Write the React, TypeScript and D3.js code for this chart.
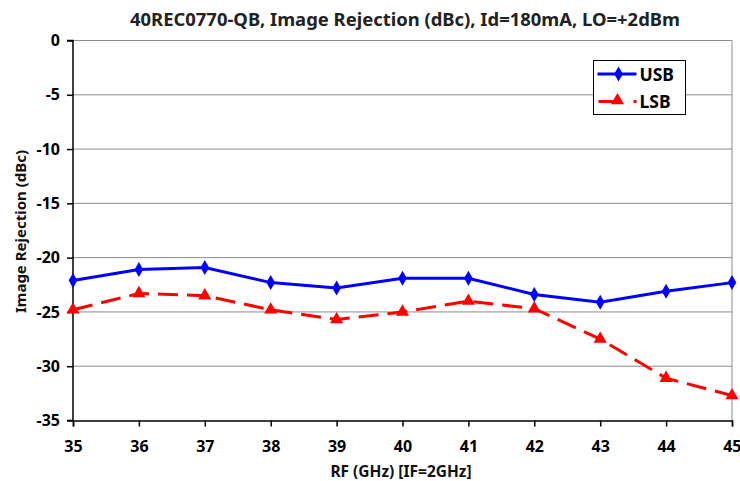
import { useEffect, useRef } from "react";
import * as d3 from "d3";

// RF frequency (GHz) and image rejection (dBc)
const rfGHz = [35, 36, 37, 38, 39, 40, 41, 42, 43, 44, 45];
const usb = [-22.1, -21.1, -20.9, -22.3, -22.8, -21.9, -21.9, -23.4, -24.1, -23.1, -22.3];
const lsb = [-24.8, -23.3, -23.5, -24.8, -25.7, -25.0, -24.0, -24.7, -27.5, -31.1, -32.7];
const yTicks = [0, -5, -10, -15, -20, -25, -30, -35];
const xTicks = [35, 36, 37, 38, 39, 40, 41, 42, 43, 44, 45];

const title = "40REC0770-QB, Image Rejection (dBc), Id=180mA, LO=+2dBm";
const xTitle = "RF (GHz) [IF=2GHz]";
const yTitle = "Image Rejection (dBc)";
const font = "'Noto Sans', 'DejaVu Sans', sans-serif";

export default function App() {
  const svgRef = useRef<SVGSVGElement>(null);

  useEffect(() => {
    if (!svgRef.current) return;
    const W = 740;
    const H = 481;
    const margin = { top: 40.5, right: 8, bottom: 60.5, left: 73 };
    const innerW = W - margin.left - margin.right;
    const innerH = H - margin.top - margin.bottom;

    const root = d3.select(svgRef.current);
    root.selectAll("*").remove();

    const x = d3.scaleLinear().domain([35, 45]).range([0, innerW]);
    const y = d3.scaleLinear().domain([-35, 0]).range([innerH, 0]);

    const svg = root.append("g").attr("transform", `translate(${margin.left},${margin.top})`);

    // Title
    root.append("text")
      .attr("x", 405).attr("y", 26)
      .attr("text-anchor", "middle")
      .style("font-family", font).style("font-weight", "bold").style("font-size", "17.5px")
      .attr("textLength", 550).attr("lengthAdjust", "spacingAndGlyphs")
      .attr("fill", "#222")
      .text(title);

    // Grid lines
    svg.append("g").selectAll("line")
      .data(yTicks.filter(d => d !== -35))
      .join("line")
      .attr("x1", 0).attr("x2", innerW)
      .attr("y1", d => y(d)).attr("y2", d => y(d))
      .attr("stroke", "#8c8c8c").attr("stroke-width", 1);

    // Right border
    svg.append("line")
      .attr("x1", innerW).attr("x2", innerW).attr("y1", 0).attr("y2", innerH)
      .attr("stroke", "#8c8c8c").attr("stroke-width", 1);

    // Axes
    const xAxis = d3.axisBottom(x).tickValues(xTicks).tickSize(6).tickPadding(14).tickFormat(d => String(d));
    const yAxis = d3.axisLeft(y).tickValues(yTicks).tickSize(6).tickPadding(7).tickFormat(d => String(d));

    const gx = svg.append("g").attr("transform", `translate(0,${innerH})`).call(xAxis);
    const gy = svg.append("g").call(yAxis);
    [gx, gy].forEach(g => {
      g.select(".domain").attr("stroke", "#000").attr("stroke-width", 1.5);
      g.selectAll(".tick line").attr("stroke", "#000").attr("stroke-width", 1.5);
      g.selectAll("text")
        .style("font-family", font).style("font-weight", "bold").style("font-size", "16px")
        .attr("fill", "#000");
    });
    gy.selectAll(".domain").attr("d", `M-6,${innerH}H0V0H-6`);
    // keep the last x label inside the page edge
    gx.selectAll<SVGTextElement, number>(".tick text")
      .filter(d => d === 45)
      .attr("text-anchor", "end")
      .attr("dx", 9);

    // Axis titles
    root.append("text")
      .attr("x", 401).attr("y", 477)
      .attr("text-anchor", "middle")
      .style("font-family", font).style("font-weight", "bold").style("font-size", "15.5px")
      .attr("fill", "#111")
      .text(xTitle);
    root.append("text")
      .attr("transform", "translate(26,231.5) rotate(-90)")
      .attr("text-anchor", "middle")
      .style("font-family", font).style("font-weight", "bold").style("font-size", "15px")
      .attr("fill", "#111")
      .text(yTitle);

    const line = d3.line<number>().x((_, i) => x(rfGHz[i])).y(d => y(d));

    // LSB
    svg.append("path")
      .datum(lsb)
      .attr("d", line)
      .attr("fill", "none")
      .attr("stroke", "#ff0000").attr("stroke-width", 3)
      .attr("stroke-dasharray", "20,9");
    const tri = d3.symbol().type(d3.symbolTriangle).size(75);
    svg.append("g").selectAll("path")
      .data(lsb)
      .join("path")
      .attr("d", tri)
      .attr("transform", (d, i) => `translate(${x(rfGHz[i])},${y(d)})`)
      .attr("fill", "#ff0000");

    // USB
    svg.append("path")
      .datum(usb)
      .attr("d", line)
      .attr("fill", "none")
      .attr("stroke", "#0000ff").attr("stroke-width", 3);
    const dia = d3.symbol().type(d3.symbolDiamond).size(65);
    svg.append("g").selectAll("path")
      .data(usb)
      .join("path")
      .attr("d", dia)
      .attr("transform", (d, i) => `translate(${x(rfGHz[i])},${y(d)})`)
      .attr("fill", "#0000ff");

    // Legend
    const lg = root.append("g").attr("transform", "translate(593.5,60.5)");
    lg.append("rect")
      .attr("width", 92).attr("height", 54)
      .attr("fill", "#fff").attr("stroke", "#000").attr("stroke-width", 1);
    lg.append("line").attr("x1", 4).attr("x2", 43).attr("y1", 13.5).attr("y2", 13.5)
      .attr("stroke", "#0000ff").attr("stroke-width", 3);
    lg.append("path").attr("d", dia).attr("transform", "translate(25,13.5)").attr("fill", "#0000ff");
    lg.append("line").attr("x1", 5).attr("x2", 43).attr("y1", 41).attr("y2", 41)
      .attr("stroke", "#ff0000").attr("stroke-width", 3).attr("stroke-dasharray", "23,12");
    lg.append("path").attr("d", tri).attr("transform", "translate(24,40)").attr("fill", "#ff0000");
    lg.append("text").attr("x", 46).attr("y", 20)
      .style("font-family", font).style("font-weight", "bold").style("font-size", "17.5px")
      .attr("fill", "#000").text("USB");
    lg.append("text").attr("x", 46).attr("y", 47.5)
      .style("font-family", font).style("font-weight", "bold").style("font-size", "17.5px")
      .attr("fill", "#000").text("LSB");
  }, []);

  return (
    <div style={{ position: "absolute", left: 0, top: 0 }}>
      <svg ref={svgRef} width={740} height={481} style={{ display: "block", background: "#fff" }} />
    </div>
  );
}
